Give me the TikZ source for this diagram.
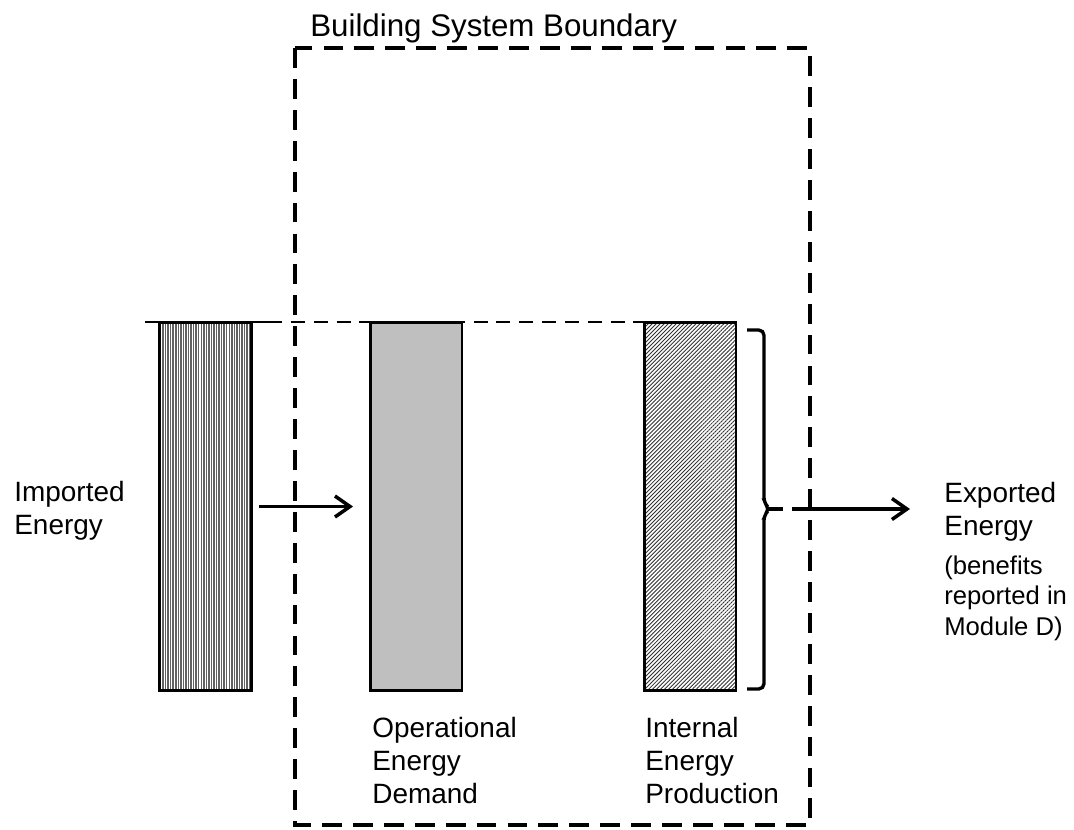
\documentclass[tikz,border=0pt]{standalone}
\usepackage{fontspec}
\setmainfont{Liberation Sans}
\usetikzlibrary{positioning,arrows.meta,patterns.meta}

\tikzset{
  bar/.style      = {draw, line width=1.7pt, minimum width=1.84cm,
                     minimum height=7.36cm, inner sep=0pt, outer sep=0pt},
  importbar/.style = {bar, preaction={fill=white},
                     pattern={Lines[angle=90,distance=1.45pt,line width=0.85pt]},
                     pattern color=black!62},
  demandbar/.style = {bar, fill=black!25},
  prodbar/.style  = {bar, preaction={fill=white},
                     pattern={Lines[angle=45,distance=1.6pt,line width=0.5pt]},
                     pattern color=black!80},
  boundary/.style = {line width=1.9pt, dash pattern=on 11.3pt off 6.3pt},
  topline/.style  = {line width=1.1pt, dash pattern=on 8pt off 5pt},
  flow/.style     = {-{Straight Barb[length=0.3cm,width=0.42cm]}, line width=2pt},
  bracket/.style  = {line width=1.9pt, rounded corners=3pt},
  lbl/.style      = {font=\fontsize{15.9}{18.7}\selectfont, align=left,
                     inner sep=0pt, anchor=north west},
  note/.style     = {lbl, font=\fontsize{14.6}{17.2}\selectfont},
  heading/.style  = {font=\fontsize{17.8}{20}\selectfont, inner sep=0pt,
                     anchor=north west}
}

\begin{document}
\begin{tikzpicture}[x=0.02cm, y=-0.02cm]
  \useasboundingbox (0,0) rectangle (1074,829);

  % system boundary
  \draw[boundary] (295,48) rectangle (810,825);
  \node[heading] (title) at (310,13) {Building System Boundary};

  % reference level at top of the bars
  \draw[line width=1.1pt] (145,322) -- (268,322);
  \draw[topline] (268,322) -- (645,322);

  % bars
  \node[importbar] (imp)  at (205.5,506.5) {};
  \node[demandbar] (dem)  at (416,506.5)   {};
  \node[prodbar]   (prod) at (690,506.5)   {};

  % brace round the production bar
  \coordinate (tip) at (783,509);
  \draw[bracket] (747,330) -- (764,330) -- (764,503) -- (770,509)
    -- (764,515) -- (764,689) -- (747,689);
  \draw[line width=1.9pt] (769,509) -- (tip);

  % labels
  \node[lbl] (implbl)  at (14,481)  {Imported\\Energy};
  \node[lbl] (demlbl)  at (372,717) {Operational\\Energy\\Demand};
  \node[lbl] (prodlbl) at (645,717) {Internal\\Energy\\Production};
  \node[lbl] (exp)     at (944,482) {Exported\\Energy};
  \node[note, below=8pt of exp.south west, anchor=north west] (benefit)
    {(benefits\\reported in\\Module D)};

  % flows
  \draw[flow, shorten <=0.16cm, shorten >=0.34cm] (imp) -- (dem);
  \draw[flow, shorten <=0.18cm] (tip) -- (910,509);
\end{tikzpicture}
\end{document}
